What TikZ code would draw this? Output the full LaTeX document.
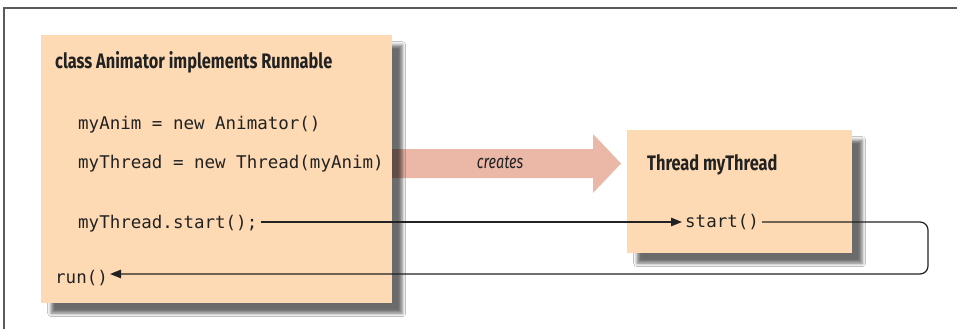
\documentclass[tikz,border=0pt]{standalone}
\usepackage{fontspec}
\usetikzlibrary{arrows.meta,shadows.blur}
\setmainfont{Fira Sans}
\newfontfamily\titlefont[FakeStretch=0.78]{Fira Sans}
\newfontfamily\crfont[FakeStretch=0.76]{Fira Sans}
\newfontfamily\codefont{DejaVu Sans Mono}
\definecolor{peach}{HTML}{FDDAB4}
\definecolor{pinkarrow}{HTML}{EBB8A8}
\definecolor{framegray}{HTML}{5A5A5A}
\definecolor{linecol}{HTML}{222222}
\begin{document}
\begin{tikzpicture}[x=1pt,y=-1pt,
  box/.style={fill=peach, draw=none, anchor=north west, inner sep=0pt,
    blur shadow={shadow xshift=10pt, shadow yshift=-10pt, shadow blur radius=3.5pt, shadow opacity=58}},
  titletext/.style={inner sep=0pt, anchor=base west, font=\titlefont\bfseries\fontsize{21}{25}\selectfont, text=linecol},
  codetext/.style={inner sep=0pt, anchor=base west, font=\codefont\fontsize{17.5}{21}\selectfont, text=linecol},
  link/.style={draw=linecol, line width=1.2pt, -{Triangle[length=11pt,width=8.5pt]}}]
\useasboundingbox (0,0) rectangle (957,329);
\fill[white] (0,0) rectangle (957,329);
\draw[framegray, line width=1.5pt] (4,329) -- (4,8) -- (957,8);
% creates arrow
\fill[pinkarrow] (392,149) -- (593,149) -- (593,134) -- (621,163.5) -- (593,193) -- (593,178) -- (392,178) -- cycle;
\node[font=\crfont\itshape\fontsize{19}{23}\selectfont, text=linecol, anchor=base, inner sep=0pt] (creates) at (500,168) {creates};
% boxes
\node[box, minimum width=351pt, minimum height=268pt] (anim) at (41,35) {};
\node[box, minimum width=225pt, minimum height=123pt] (thread) at (627,130) {};
% texts
\node[titletext] (animtitle) at (55,68) {class Animator implements Runnable};
\node[codetext] (l1) at (78,129) {myAnim = new Animator()};
\node[codetext] (l2) at (78,168) {myThread = new Thread(myAnim)};
\node[codetext] (start1) at (78,228) {myThread.start();};
\node[codetext] (run) at (55,283) {run()};
\node[titletext] (threadtitle) at (647,170) {Thread myThread};
\node[codetext] (start2) at (685,227) {start()};
% connectors
\coordinate (loopA) at (928,222);
\coordinate (loopB) at (928,274);
\draw[link, shorten <=3pt, shorten >=3pt] (start1.east |- loopA) -- (start2.west |- loopA);
\draw[link, rounded corners=8pt, shorten <=3pt, shorten >=2pt] (start2.east |- loopA) -- (loopA) -- (loopB) -- (run.east |- loopB);
\end{tikzpicture}
\end{document}
